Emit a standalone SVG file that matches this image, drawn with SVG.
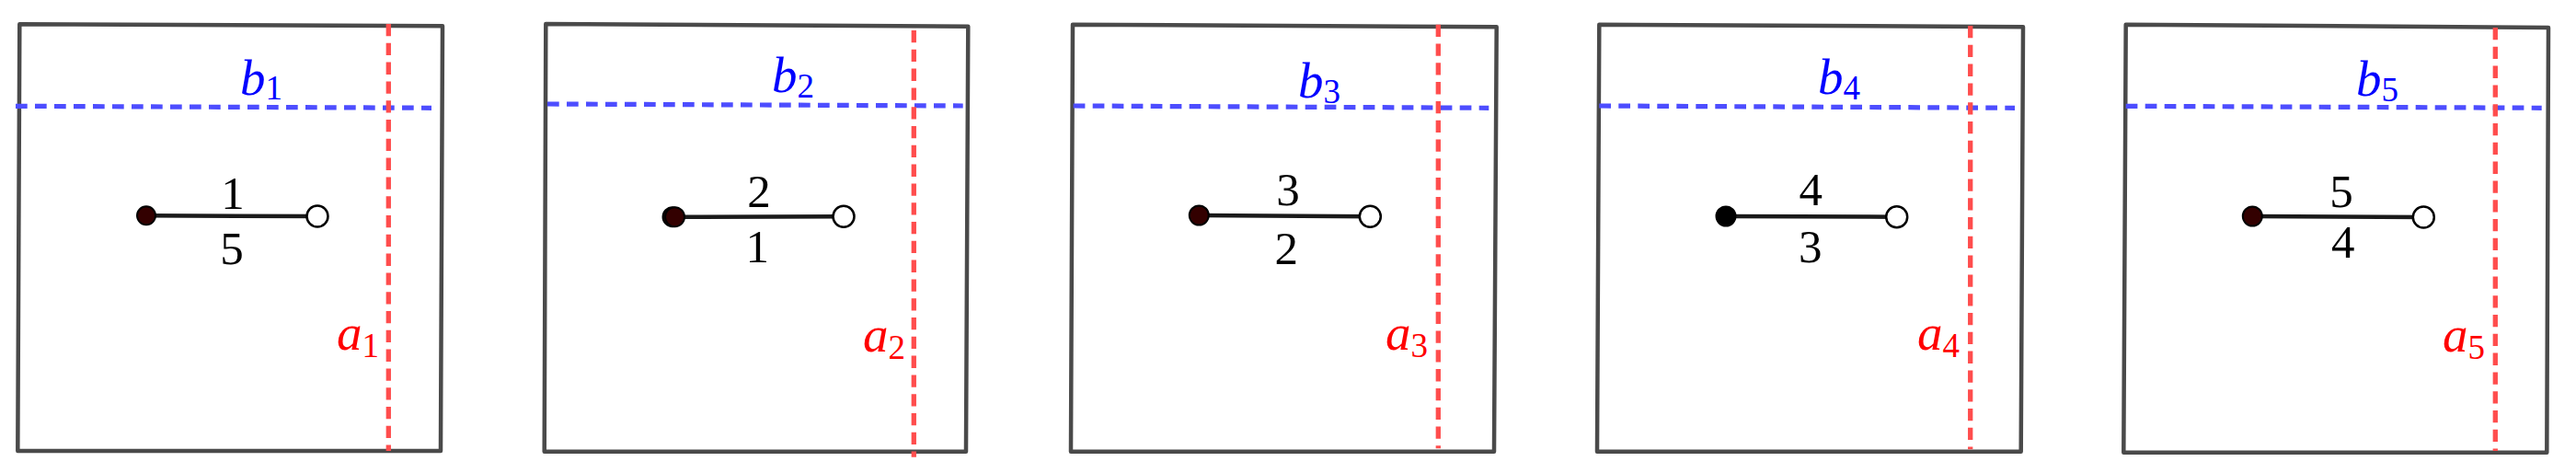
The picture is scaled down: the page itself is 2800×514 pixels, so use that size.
<svg xmlns="http://www.w3.org/2000/svg" width="2800" height="514" viewBox="0 0 2800 514">
<style>
.box{fill:none;stroke:#4a4a4a;stroke-width:4.5;stroke-linejoin:round;stroke-linecap:round}
.bl{stroke:#4d4dff;stroke-width:5.2;stroke-dasharray:12.7 8.3;fill:none}
.rd{stroke:#ff4d4d;stroke-width:5.3;stroke-dasharray:13.3 7.5;fill:none}
.seg{stroke:#1a1a1a;stroke-width:4.5;fill:none}
.full{fill:#330000;stroke:#000;stroke-width:2}
.open{fill:#fff;stroke:#000;stroke-width:2.5}
.num{font-family:"Liberation Serif","DejaVu Serif",serif;font-size:51px;fill:#000;text-anchor:middle}
.var{font-family:"Liberation Serif","DejaVu Serif",serif;font-size:55px;font-style:italic}
.sub{font-style:normal;font-size:37px}
.b{fill:#0000ff}
.a{fill:#ff0000}
</style>
<rect width="2800" height="514" fill="#fff"/>

<g id="panel1">
<polygon class="box" points="21.3,26.3 481,28.3 479,490 19.3,490"/>
<line class="bl" x1="17" y1="115.3" x2="469" y2="117.3"/>
<line class="rd" x1="422.3" y1="26" x2="422.3" y2="490"/>
<text class="var b" x="261" y="103">b<tspan class="sub" dy="5">1</tspan></text>
<text class="var a" x="366" y="380">a<tspan class="sub" dy="8">1</tspan></text>
<text class="num" x="253" y="226.7">1</text>
<text class="num" x="252" y="286.7">5</text>
</g>

<g id="panel2">
<polygon class="box" points="593.3,26 1052.3,28.7 1050,490.7 591.7,490.7"/>
<line class="bl" x1="595" y1="113" x2="1046.7" y2="115"/>
<line class="rd" x1="993.3" y1="33" x2="993.3" y2="496.7"/>
<text class="var b" x="839" y="100">b<tspan class="sub" dy="6">2</tspan></text>
<text class="var a" x="938" y="381.7">a<tspan class="sub" dy="8">2</tspan></text>
<text class="num" x="825" y="225">2</text>
<text class="num" x="823.3" y="285">1</text>
</g>

<g id="panel3">
<polygon class="box" points="1166,26.7 1626.7,29.3 1624,490.7 1164,490.7"/>
<line class="bl" x1="1166.7" y1="115" x2="1618.3" y2="117.3"/>
<line class="rd" x1="1563.3" y1="26.7" x2="1563.3" y2="487.3"/>
<text class="var b" x="1411" y="106">b<tspan class="sub" dy="6">3</tspan></text>
<text class="var a" x="1506" y="380">a<tspan class="sub" dy="8">3</tspan></text>
<text class="num" x="1400" y="222.7">3</text>
<text class="num" x="1398.3" y="286.7">2</text>
</g>

<g id="panel4">
<polygon class="box" points="1738.3,26.7 2199,29.3 2196.7,490.7 1736,490.7"/>
<line class="bl" x1="1738.3" y1="115" x2="2190" y2="117.3"/>
<line class="rd" x1="2141.7" y1="28" x2="2141.7" y2="488.3"/>
<text class="var b" x="1976" y="102">b<tspan class="sub" dy="6">4</tspan></text>
<text class="var a" x="2084" y="380">a<tspan class="sub" dy="8">4</tspan></text>
<text class="num" x="1968.3" y="222.7">4</text>
<text class="num" x="1967.7" y="285">3</text>
</g>

<g id="panel5">
<polygon class="box" points="2310.7,26.7 2770,30 2768.3,491.7 2308.3,491.7"/>
<line class="bl" x1="2310.7" y1="115.3" x2="2762.7" y2="117.3"/>
<line class="rd" x1="2712.3" y1="30" x2="2712.3" y2="490"/>
<text class="var b" x="2561" y="104.3">b<tspan class="sub" dy="6">5</tspan></text>
<text class="var a" x="2655" y="381.7">a<tspan class="sub" dy="8">5</tspan></text>
<text class="num" x="2545" y="225">5</text>
<text class="num" x="2546.7" y="280">4</text>
</g>

<g id="connectors">
<line class="seg" x1="159" y1="234.3" x2="345" y2="235"/>
<line class="seg" x1="732.7" y1="235.7" x2="917" y2="235.3"/>
<line class="seg" x1="1303.3" y1="234" x2="1489.3" y2="235.3"/>
<line class="seg" x1="1876" y1="235" x2="2061.7" y2="235.7"/>
<line class="seg" x1="2448.3" y1="235" x2="2634.3" y2="236"/>
</g>

<g id="p1-start"><circle class="full" cx="159" cy="234.3" r="10"/></g>
<g id="p1-end"><circle class="open" cx="345" cy="235" r="11.5"/></g>
<g id="p2-start"><circle class="full" cx="731" cy="235.7" r="10.5"/><circle class="full" cx="733.5" cy="235.7" r="10.5"/></g>
<g id="p2-end"><circle class="open" cx="917" cy="235.3" r="11.5"/></g>
<g id="p3-start"><circle class="full" cx="1303.3" cy="234" r="10.5"/></g>
<g id="p3-end"><circle class="open" cx="1489.3" cy="235.3" r="11.5"/></g>
<g id="p4-start"><circle class="full" cx="1876" cy="235" r="10.5" style="fill:#000"/></g>
<g id="p4-end"><circle class="open" cx="2061.7" cy="235.7" r="11.5"/></g>
<g id="p5-start"><circle class="full" cx="2448.3" cy="235" r="10.5"/></g>
<g id="p5-end"><circle class="open" cx="2634.3" cy="236" r="11.5"/></g>
</svg>
